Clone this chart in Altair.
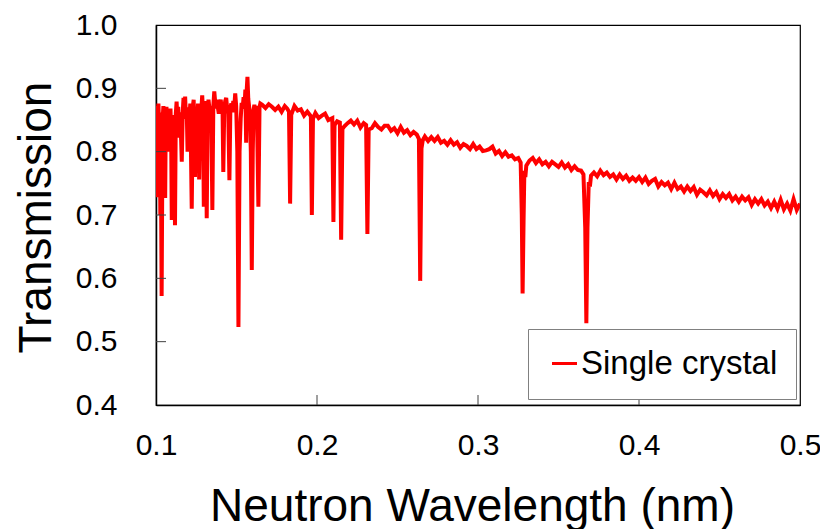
import altair as alt
import pandas as pd

# ---- data (wavelength nm, transmission) ----
seg_a = [
    (0.1000, 0.845), (0.1003, 0.780), (0.1006, 0.872), (0.1009, 0.728), (0.1012, 0.865),
    (0.1015, 0.876), (0.1019, 0.840), (0.1023, 0.862), (0.1027, 0.700), (0.1031, 0.760),
    (0.1035, 0.572), (0.1039, 0.760), (0.1042, 0.855), (0.1046, 0.872), (0.1050, 0.845),
    (0.1053, 0.866), (0.1057, 0.727), (0.1061, 0.860), (0.1065, 0.871), (0.1069, 0.830),
    (0.1073, 0.866), (0.1077, 0.800), (0.1081, 0.862), (0.1085, 0.846), (0.1090, 0.868),
    (0.1094, 0.830), (0.1098, 0.692), (0.1103, 0.852), (0.1108, 0.835), (0.1113, 0.858),
    (0.1118, 0.684), (0.1123, 0.860), (0.1128, 0.879), (0.1133, 0.850), (0.1138, 0.871),
    (0.1143, 0.822), (0.1148, 0.862), (0.1153, 0.845), (0.1160, 0.784), (0.1166, 0.862),
    (0.1171, 0.885), (0.1176, 0.858), (0.1181, 0.887), (0.1186, 0.852), (0.1191, 0.866),
    (0.1196, 0.800), (0.1201, 0.870), (0.1207, 0.852), (0.1213, 0.876), (0.1222, 0.710),
    (0.1229, 0.872), (0.1234, 0.882), (0.1242, 0.760), (0.1249, 0.870), (0.1255, 0.852),
    (0.1261, 0.876), (0.1268, 0.756), (0.1274, 0.872), (0.1280, 0.860), (0.1287, 0.889),
    (0.1292, 0.862), (0.1297, 0.713), (0.1303, 0.870), (0.1309, 0.880), (0.1315, 0.695),
    (0.1321, 0.862), (0.1326, 0.882), (0.1331, 0.870), (0.1337, 0.852), (0.1343, 0.872),
    (0.1350, 0.708), (0.1356, 0.872), (0.1362, 0.895), (0.1367, 0.880), (0.1372, 0.868),
    (0.1378, 0.882), (0.1384, 0.870), (0.1390, 0.860), (0.1396, 0.876), (0.1402, 0.882),
    (0.1408, 0.868), (0.1413, 0.874), (0.1418, 0.768), (0.1424, 0.870), (0.1430, 0.880),
    (0.1436, 0.885), (0.1442, 0.868), (0.1449, 0.860), (0.1456, 0.755), (0.1462, 0.870),
    (0.1468, 0.876), (0.1474, 0.862), (0.1480, 0.880), (0.1486, 0.870), (0.1492, 0.892),
    (0.1498, 0.872), (0.1505, 0.800), (0.1512, 0.523), (0.1519, 0.800), (0.1526, 0.852),
    (0.1532, 0.877), (0.1538, 0.868), (0.1544, 0.886), (0.1550, 0.872), (0.1555, 0.898),
    (0.1560, 0.814), (0.1564, 0.900), (0.1568, 0.918), (0.1573, 0.884), (0.1578, 0.872),
    (0.1583, 0.862), (0.1589, 0.800), (0.1595, 0.613), (0.1601, 0.800), (0.1606, 0.866),
    (0.1611, 0.874), (0.1616, 0.864), (0.1621, 0.872), (0.1627, 0.862), (0.1636, 0.713),
    (0.1643, 0.870), (0.1648, 0.876),
]

seg_b = [
    (0.166, 0.874), (0.168, 0.869), (0.170, 0.875), (0.172, 0.871), (0.174, 0.866),
    (0.176, 0.871), (0.178, 0.863), (0.180, 0.872), (0.1815, 0.868), (0.1826, 0.863),
    (0.1833, 0.718), (0.1840, 0.858), (0.186, 0.872), (0.188, 0.865), (0.190, 0.867),
    (0.192, 0.857), (0.194, 0.863), (0.1962, 0.856), (0.1968, 0.700), (0.1975, 0.852),
    (0.199, 0.861), (0.201, 0.853), (0.203, 0.857), (0.205, 0.860), (0.207, 0.850),
    (0.2095, 0.853), (0.2102, 0.689), (0.2109, 0.842), (0.2125, 0.848), (0.2142, 0.846),
    (0.2150, 0.661), (0.2158, 0.836), (0.217, 0.840), (0.219, 0.845), (0.221, 0.849),
    (0.223, 0.843), (0.225, 0.849), (0.227, 0.838), (0.229, 0.845), (0.2305, 0.842),
    (0.2313, 0.670), (0.2321, 0.835), (0.234, 0.837), (0.236, 0.845), (0.238, 0.839),
    (0.240, 0.835), (0.242, 0.841), (0.244, 0.841), (0.246, 0.833), (0.248, 0.837),
    (0.250, 0.829), (0.252, 0.839), (0.254, 0.830), (0.256, 0.834), (0.258, 0.826),
    (0.260, 0.831), (0.262, 0.827), (0.2633, 0.820), (0.2641, 0.596), (0.2649, 0.805),
    (0.2657, 0.818), (0.267, 0.824), (0.269, 0.817), (0.271, 0.823), (0.273, 0.817),
    (0.275, 0.823), (0.277, 0.814), (0.279, 0.817),
]

seg_c = [
    (0.281, 0.811), (0.283, 0.818), (0.285, 0.811), (0.287, 0.815), (0.289, 0.806),
    (0.291, 0.812), (0.293, 0.809), (0.295, 0.804), (0.297, 0.812), (0.299, 0.804),
    (0.301, 0.808), (0.303, 0.801), (0.305, 0.802), (0.307, 0.804), (0.309, 0.808),
    (0.311, 0.797), (0.313, 0.801), (0.315, 0.793), (0.317, 0.799), (0.319, 0.792),
    (0.321, 0.794), (0.323, 0.788), (0.325, 0.790), (0.3265, 0.783), (0.3272, 0.700),
    (0.3277, 0.576), (0.3283, 0.690), (0.3288, 0.770), (0.3294, 0.760), (0.3300, 0.778),
    (0.332, 0.786), (0.334, 0.790), (0.336, 0.782), (0.338, 0.788), (0.340, 0.780),
    (0.342, 0.784), (0.344, 0.777), (0.346, 0.784), (0.348, 0.780), (0.350, 0.776),
    (0.352, 0.783), (0.354, 0.775), (0.356, 0.780), (0.358, 0.771), (0.360, 0.777),
    (0.362, 0.771), (0.364, 0.770), (0.3655, 0.764), (0.3666, 0.680), (0.3673, 0.529),
    (0.3680, 0.680), (0.3688, 0.752), (0.3695, 0.745), (0.3702, 0.762), (0.372, 0.767),
    (0.374, 0.761), (0.376, 0.770), (0.378, 0.763), (0.380, 0.767), (0.382, 0.760),
    (0.384, 0.764), (0.386, 0.756), (0.388, 0.764), (0.390, 0.757), (0.392, 0.762),
    (0.394, 0.754), (0.396, 0.759), (0.398, 0.754), (0.400, 0.760),
]

seg_d = [
    (0.402, 0.752), (0.404, 0.759), (0.406, 0.749), (0.408, 0.754), (0.410, 0.757),
    (0.412, 0.745), (0.414, 0.752), (0.416, 0.747), (0.418, 0.751), (0.420, 0.741),
    (0.422, 0.751), (0.424, 0.741), (0.426, 0.745), (0.428, 0.737), (0.430, 0.745),
    (0.432, 0.738), (0.434, 0.744), (0.436, 0.732), (0.438, 0.740), (0.440, 0.736),
    (0.442, 0.731), (0.444, 0.739), (0.446, 0.730), (0.448, 0.736), (0.450, 0.725),
    (0.452, 0.733), (0.454, 0.727), (0.456, 0.733), (0.458, 0.723), (0.460, 0.729),
    (0.462, 0.721), (0.464, 0.729), (0.466, 0.723), (0.468, 0.728), (0.470, 0.716),
    (0.472, 0.725), (0.474, 0.718), (0.476, 0.725), (0.478, 0.715), (0.480, 0.721),
    (0.482, 0.711), (0.484, 0.721), (0.486, 0.710), (0.488, 0.724), (0.490, 0.709),
    (0.492, 0.718), (0.494, 0.707), (0.496, 0.725), (0.498, 0.708), (0.500, 0.718),
]

series_name = "Single crystal"
x_ticks = [0.1, 0.2, 0.3, 0.4, 0.5]
y_ticks = [0.4, 0.5, 0.6, 0.7, 0.8, 0.9, 1.0]
x_inner_ticks = [0.2, 0.3, 0.4]
y_inner_ticks = [0.5, 0.6, 0.7, 0.8, 0.9]

points = seg_a + seg_b + seg_c + seg_d
df = pd.DataFrame(points, columns=["wavelength", "transmission"])
df["series"] = series_name

FONT = "Liberation Sans, Arial, Helvetica, sans-serif"
W, H = 644, 380

xscale = alt.Scale(domain=[0.1, 0.5], nice=False, zero=False)
yscale = alt.Scale(domain=[0.4, 1.0], nice=False, zero=False)

x_axis = alt.Axis(values=x_ticks, format=".1f", title="Neutron Wavelength (nm)",
                  tickSize=0, labelPadding=49, labelBaseline="alphabetic",
                  titleX=316, titleY=115, titleBaseline="alphabetic",
                  titleAnchor="start", titleAlign="center", labelFlush=False)
y_axis = alt.Axis(values=y_ticks, format=".1f", title="Transmission",
                  tickSize=0, labelPadding=39, titleAngle=270,
                  titleX=-106, titleY=192, titleBaseline="alphabetic",
                  titleAlign="center", labelFlush=False)

line = alt.Chart(df).mark_line(strokeWidth=4, clip=True).encode(
    x=alt.X("wavelength:Q", scale=xscale, axis=x_axis),
    y=alt.Y("transmission:Q", scale=yscale, axis=y_axis),
    color=alt.Color("series:N", scale=alt.Scale(range=["#ff0000"]),
                    legend=alt.Legend(orient="none", legendX=372, legendY=304, title=None,
                                      symbolType="stroke", symbolSize=625,
                                      symbolStrokeWidth=3, labelFontSize=33,
                                      labelFont=FONT, labelLimit=400, labelColor="black",
                                      strokeColor="#808080", fillColor="white",
                                      padding=18, symbolOffset=2, labelOffset=0)),
    order="wavelength:Q",
)

ytick_df = pd.DataFrame({"v": y_inner_ticks})
xtick_df = pd.DataFrame({"v": x_inner_ticks})

ytick = alt.Chart(ytick_df).mark_rule(color="#404040", strokeWidth=1).encode(
    y=alt.Y("v:Q", scale=yscale, axis=y_axis),
    x=alt.value(0), x2=alt.value(10),
)
xtick = alt.Chart(xtick_df).mark_rule(color="#404040", strokeWidth=1).encode(
    x=alt.X("v:Q", scale=xscale, axis=x_axis),
    y=alt.value(H), y2=alt.value(H - 10),
)

chart = alt.layer(line, ytick, xtick).properties(
    width=W, height=H,
    autosize=alt.AutoSizeParams(type="none"),
    padding={"left": 156, "top": 25, "right": 20, "bottom": 124},
    background="white",
).configure_view(
    stroke="black", strokeWidth=1.2,
).configure_axis(
    grid=False, domainColor="black", domainWidth=1.5,
    labelFont=FONT, labelFontSize=30, labelColor="black",
    titleFont=FONT, titleFontSize=46, titleFontWeight="normal", titleColor="black",
)

chart.save("out.html", embed_options={"renderer": "svg", "actions": False})
